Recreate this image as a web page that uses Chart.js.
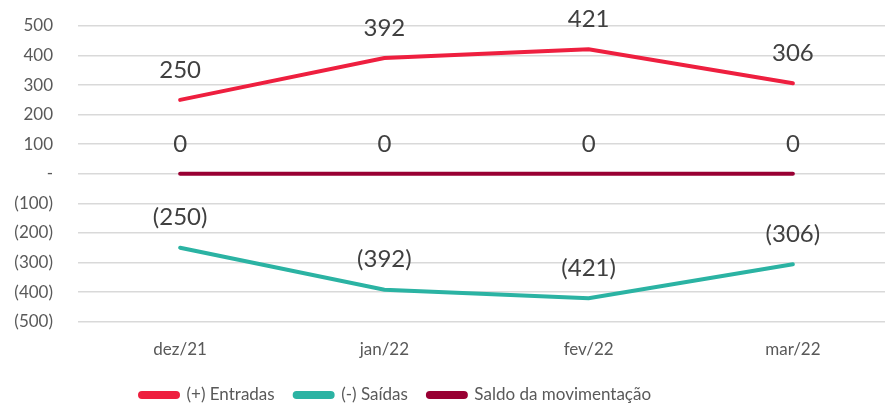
<!DOCTYPE html>
<html>
<head>
<meta charset="utf-8">
<script src="https://cdn.jsdelivr.net/npm/chart.js@4/dist/chart.umd.min.js"></script>
<style>
  html, body { margin: 0; padding: 0; background: #fff; overflow: hidden; height: 405px; }
  #wrap { width: 895px; height: 425px; position: relative; }
</style>
</head>
<body>
<div id="wrap"><canvas id="chart"></canvas></div>
<script>
var labels = ['dez/21', 'jan/22', 'fev/22', 'mar/22'];
var entradas = [250, 392, 421, 306];
var saidas = [-250, -392, -421, -306];
var saldo = [0, 0, 0, 0];

var FONT = 'Lato';

function fmt(v) {
    if (v === 0) return '-';
    if (v < 0) return '(' + Math.abs(v) + ')';
    return '' + v;
}

// draws the value above each point
var valueLabels = {
    id: 'valueLabels',
    afterDatasetsDraw: function(chart) {
        var ctx = chart.ctx;
        ctx.save();
        ctx.font = '24px ' + FONT + ', sans-serif';
        ctx.fillStyle = '#404040';
        ctx.textAlign = 'center';
        ctx.textBaseline = 'middle';
        chart.data.datasets.forEach(function(ds, i) {
            chart.getDatasetMeta(i).data.forEach(function(pt, j) {
                var v = ds.data[j];
                var txt = v < 0 ? '(' + Math.abs(v) + ')' : '' + v;
                ctx.fillText(txt, pt.x, pt.y - 30);
            });
        });
        ctx.restore();
    }
};

// legend sits left of centre like the original
var legendShift = {
    id: 'legendShift',
    beforeDraw: function(chart) {
        var lg = chart.legend;
        var p = lg.options.labels.padding;
        var w = lg.right - lg.left;
        lg.left = 140 - p;
        lg.right = lg.left + w;
        lg.top = 395 - p - 8.5;
    }
};

var ctx = document.getElementById('chart').getContext('2d');
var chart = new Chart(ctx, {
    type: 'line',
    data: {
        labels: labels,
        datasets: [{
            label: '(+) Entradas',
            borderColor: '#EE1F3F',
            backgroundColor: '#EE1F3F',
            borderWidth: 4,
            pointRadius: 0,
            borderCapStyle: 'round',
            data: entradas
        }, {
            label: '(-) Saídas',
            borderColor: '#2BB3A3',
            backgroundColor: '#2BB3A3',
            borderWidth: 4,
            pointRadius: 0,
            borderCapStyle: 'round',
            data: saidas
        }, {
            label: 'Saldo da movimentação',
            borderColor: '#990033',
            backgroundColor: '#990033',
            borderWidth: 4,
            pointRadius: 0,
            borderCapStyle: 'round',
            data: saldo
        }]
    },
    options: {
        responsive: true,
        maintainAspectRatio: false,
        animation: false,
        layout: { padding: { top: 26, left: 0, right: 0, bottom: 0 } },
        scales: {
            x: {
                offset: true,
                grid: { display: false, drawTicks: false },
                border: { display: false },
                ticks: { color: '#595959', font: { family: FONT, size: 17 }, padding: 18 }
            },
            y: {
                min: -500,
                max: 500,
                grid: { color: '#D9D9D9', lineWidth: 1.5, drawTicks: true, tickLength: 20, tickColor: 'rgba(0,0,0,0)' },
                border: { display: false },
                afterFit: function(s) {
                    s.width = 78;
                    s.paddingTop = 0;
                    s.paddingBottom = 0;
                },
                ticks: {
                    stepSize: 100,
                    color: '#595959',
                    font: { family: FONT, size: 17 },
                    padding: 5,
                    callback: function(v) { return fmt(v); }
                }
            }
        },
        plugins: {
            tooltip: { enabled: false },
            legend: {
                position: 'bottom',
                align: 'start',
                labels: {
                    color: '#595959',
                    font: { family: FONT, size: 17 },
                    boxWidth: 38,
                    boxHeight: 4,
                    useBorderRadius: true,
                    borderRadius: 2,
                    padding: 20
                }
            }
        }
    },
    plugins: [valueLabels, legendShift]
});
</script>
</body>
</html>
